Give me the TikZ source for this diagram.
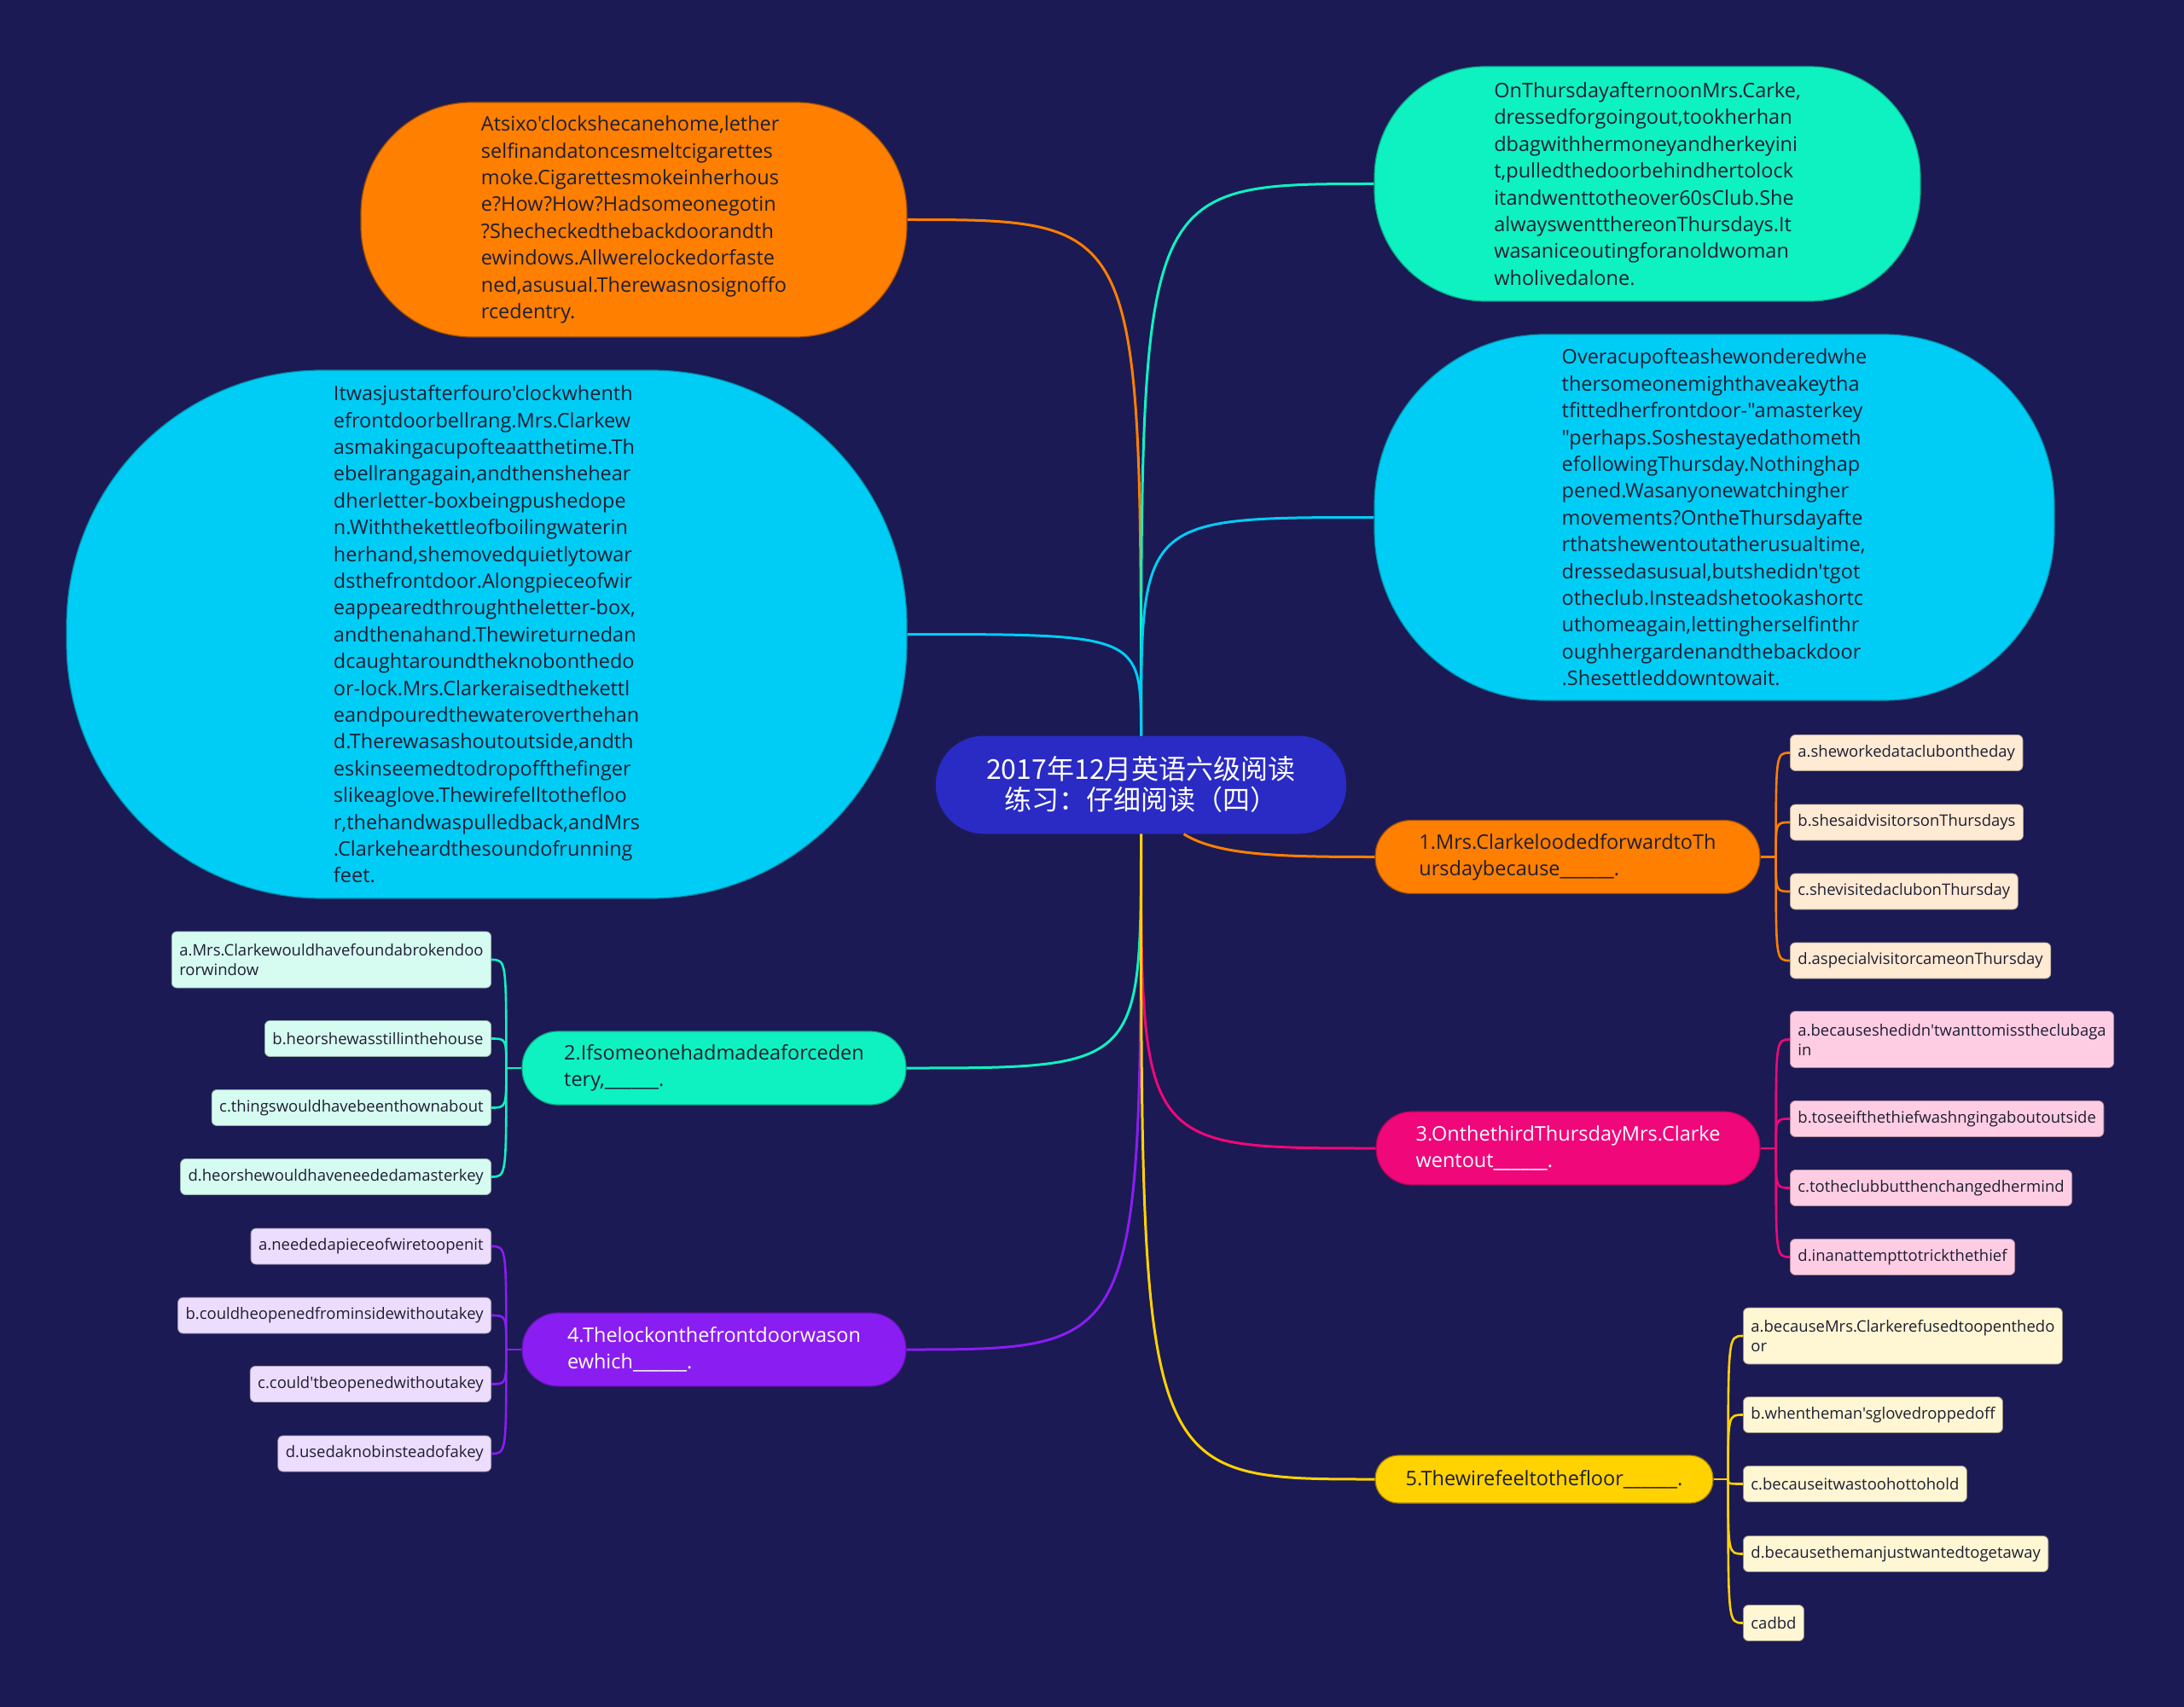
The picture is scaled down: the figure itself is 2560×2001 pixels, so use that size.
\documentclass[tikz,border=0pt]{standalone}
\usepackage{fontspec}
\setmainfont{Open Sans}[Ligatures=TeXOff]
\newfontfamily\cjkf{Noto Sans CJK SC}
\definecolor{bgc}{RGB}{27,26,84}
\definecolor{croot}{RGB}{42,42,196}
\definecolor{corange}{RGB}{255,127,0}
\definecolor{cgreen}{RGB}{14,242,193}
\definecolor{ccyan}{RGB}{0,205,245}
\definecolor{cpink}{RGB}{240,7,122}
\definecolor{cpurple}{RGB}{138,29,242}
\definecolor{cyellow}{RGB}{255,210,0}
\definecolor{oorange}{RGB}{255,234,211}
\definecolor{opink}{RGB}{255,205,227}
\definecolor{oyellow}{RGB}{255,246,212}
\definecolor{ogreen}{RGB}{214,252,241}
\definecolor{opurple}{RGB}{236,220,253}
\definecolor{txtdark}{RGB}{30,30,50}
\begin{document}
\begin{tikzpicture}[x=1pt,y=-1pt,
  rootnode/.style={rectangle, fill=croot, text=white, align=center,
    font=\cjkf\fontsize{32}{36}\selectfont, minimum width=481pt, minimum height=115pt,
    rounded corners=56pt, inner sep=0pt},
  bignode/.style={rectangle, align=left, font=\fontsize{23.5}{31.4}\selectfont,
    text=txtdark, inner sep=0pt, line width=1.2pt},
  qnode/.style={rectangle, align=left, font=\fontsize{23.5}{31}\selectfont,
    minimum width=450pt, minimum height=86pt, rounded corners=42pt,
    inner sep=0pt, line width=1.2pt},
  opt/.style={rectangle, rounded corners=6pt, align=left,
    font=\fontsize{18.5}{23}\selectfont, text=txtdark, inner xsep=9pt,
    inner ysep=8pt, minimum height=42pt, line width=0.8pt},
  opttwo/.style={opt, minimum height=66pt},
  conn/.style={line width=3pt},
  sconn/.style={line width=2.6pt}
]
\fill[bgc] (0,0) rectangle (2560,2001);
\useasboundingbox (0,0) rectangle (2560,2001);

% central node
\node[rootnode] (root) at (1337.5,920) {2017年12月英语六级阅读\\练习：仔细阅读（四）};

% passage nodes
\node[bignode, fill=corange, draw=corange!60!black, minimum width=640pt,
  minimum height=275pt, rounded corners=130pt] (p1) at (743,257.5)
{Atsixo'clockshecanehome,lether\\selfinandatoncesmeltcigarettes\\moke.Cigarettesmokeinherhous\\e?How?How?Hadsomeonegotin\\?Shecheckedthebackdoorandth\\ewindows.Allwerelockedorfaste\\ned,asusual.Therewasnosignoffo\\rcedentry.};

\node[bignode, fill=cgreen, draw=cgreen!70!black, minimum width=640pt,
  minimum height=275pt, rounded corners=130pt] (p2) at (1931,215.5)
{OnThursdayafternoonMrs.Carke,\\dressedforgoingout,tookherhan\\dbagwithhermoneyandherkeyini\\t,pulledthedoorbehindhertolock\\itandwenttotheover60sClub.She\\alwayswentthereonThursdays.It\\wasaniceoutingforanoldwoman\\wholivedalone.};

\node[bignode, fill=ccyan, draw=ccyan!70!black, minimum width=985pt,
  minimum height=619pt, rounded corners=300pt] (p3) at (570.5,743.5)
{Itwasjustafterfouro'clockwhenth\\efrontdoorbellrang.Mrs.Clarkew\\asmakingacupofteaatthetime.Th\\ebellrangagain,andthenshehear\\dherletter-boxbeingpushedope\\n.Withthekettleofboilingwaterin\\herhand,shemovedquietlytowar\\dsthefrontdoor.Alongpieceofwir\\eappearedthroughtheletter-box,\\andthenahand.Thewireturnedan\\dcaughtaroundtheknobonthedo\\or-lock.Mrs.Clarkeraisedthekettl\\eandpouredthewateroverthehan\\d.Therewasashoutoutside,andth\\eskinseemedtodropoffthefinger\\slikeaglove.Thewirefelltothefloo\\r,thehandwaspulledback,andMrs\\.Clarkeheardthesoundofrunning\\feet.};

\node[bignode, fill=ccyan, draw=ccyan!70!black, minimum width=797pt,
  minimum height=429pt, rounded corners=200pt] (p4) at (2009.5,606.5)
{Overacupofteashewonderedwhe\\thersomeonemighthaveakeytha\\tfittedherfrontdoor-"amasterkey\\"perhaps.Soshestayedathometh\\efollowingThursday.Nothinghap\\pened.Wasanyonewatchingher\\movements?OntheThursdayafte\\rthatshewentoutatherusualtime,\\dressedasusual,butshedidn'tgot\\otheclub.Insteadshetookashortc\\uthomeagain,lettingherselfinthr\\oughhergardenandthebackdoor\\.Shesettleddowntowait.};

% question nodes
\node[qnode, fill=corange, draw=corange!60!black, text=txtdark, minimum width=451pt] (q1) at (1837.5,1004.5)
{1.Mrs.ClarkeloodedforwardtoTh\\ursdaybecause\_\_\_\_\_\_.};
\node[qnode, fill=cgreen, draw=cgreen!70!black, text=txtdark] (q2) at (837,1252)
{2.Ifsomeonehadmadeaforceden\\tery,\_\_\_\_\_\_.};
\node[qnode, fill=cpink, draw=cpink!70!black, text=white] (q3) at (1838,1346)
{3.OnthethirdThursdayMrs.Clarke\\wentout\_\_\_\_\_\_.};
\node[qnode, fill=cpurple, draw=cpurple!70!black, text=white] (q4) at (837,1582)
{4.Thelockonthefrontdoorwason\\ewhich\_\_\_\_\_\_.};
\node[qnode, fill=cyellow, draw=cyellow!60!black, text=txtdark, minimum width=396pt,
  minimum height=56pt, rounded corners=27pt] (q5) at (1810,1734)
{5.Thewirefeeltothefloor\_\_\_\_\_\_.};

% options of Q1
\node[opt, fill=oorange, draw=oorange!70!black, anchor=west] (q1a) at (2098,882.5) {a.sheworkedataclubontheday};
\node[opt, fill=oorange, draw=oorange!70!black, anchor=west] (q1b) at (2098,964) {b.shesaidvisitorsonThursdays};
\node[opt, fill=oorange, draw=oorange!70!black, anchor=west] (q1c) at (2098,1045) {c.shevisitedaclubonThursday};
\node[opt, fill=oorange, draw=oorange!70!black, anchor=west] (q1d) at (2098,1126) {d.aspecialvisitorcameonThursday};

% options of Q3
\node[opttwo, fill=opink, draw=opink!70!black, anchor=west] (q3a) at (2098,1218.5) {a.becauseshedidn'twanttomisstheclubaga\\in};
\node[opt, fill=opink, draw=opink!70!black, anchor=west] (q3b) at (2098,1311.5) {b.toseeifthethiefwashngingaboutoutside};
\node[opt, fill=opink, draw=opink!70!black, anchor=west] (q3c) at (2098,1392.5) {c.totheclubbutthenchangedhermind};
\node[opt, fill=opink, draw=opink!70!black, anchor=west] (q3d) at (2098,1473.5) {d.inanattempttotrickthethief};

% options of Q5
\node[opttwo, fill=oyellow, draw=oyellow!60!black, anchor=west] (q5a) at (2043,1566) {a.becauseMrs.Clarkerefusedtoopenthedo\\or};
\node[opt, fill=oyellow, draw=oyellow!60!black, anchor=west] (q5b) at (2043,1658.5) {b.whentheman'sglovedroppedoff};
\node[opt, fill=oyellow, draw=oyellow!60!black, anchor=west] (q5c) at (2043,1739.5) {c.becauseitwastoohottohold};
\node[opt, fill=oyellow, draw=oyellow!60!black, anchor=west] (q5d) at (2043,1821.5) {d.becausethemanjustwantedtogetaway};
\node[opt, fill=oyellow, draw=oyellow!60!black, anchor=west] (q5e) at (2043,1902.5) {cadbd};

% options of Q2
\node[opttwo, fill=ogreen, draw=ogreen!70!black, anchor=east] (q2a) at (576,1125) {a.Mrs.Clarkewouldhavefoundabrokendoo\\rorwindow};
\node[opt, fill=ogreen, draw=ogreen!70!black, anchor=east] (q2b) at (576,1217.5) {b.heorshewasstillinthehouse};
\node[opt, fill=ogreen, draw=ogreen!70!black, anchor=east] (q2c) at (576,1298.5) {c.thingswouldhavebeenthownabout};
\node[opt, fill=ogreen, draw=ogreen!70!black, anchor=east] (q2d) at (576,1379.5) {d.heorshewouldhaveneededamasterkey};

% options of Q4
\node[opt, fill=opurple, draw=opurple!70!black, anchor=east] (q4a) at (576,1461) {a.neededapieceofwiretoopenit};
\node[opt, fill=opurple, draw=opurple!70!black, anchor=east] (q4b) at (576,1542) {b.couldheopenedfrominsidewithoutakey};
\node[opt, fill=opurple, draw=opurple!70!black, anchor=east] (q4c) at (576,1622.5) {c.could'tbeopenedwithoutakey};
\node[opt, fill=opurple, draw=opurple!70!black, anchor=east] (q4d) at (576,1704) {d.usedaknobinsteadofakey};

% main connectors
\draw[conn, corange] (root.north) .. controls (root.north |- p1.east) .. (p1.east);
\draw[conn, cgreen] (root.north) .. controls (root.north |- p2.west) .. (p2.west);
\draw[conn, ccyan] (root.north) .. controls (root.north |- p3.east) .. (p3.east);
\draw[conn, ccyan] (root.north) .. controls (root.north |- p4.west) .. (p4.west);
\draw[conn, corange] ([xshift=50pt]root.south) .. controls ([xshift=90pt,yshift=-25pt]root.south) and (1500,1004.5) .. (q1.west);
\draw[conn, cgreen] (root.south) .. controls (root.south |- q2.east) .. (q2.east);
\draw[conn, cpink] (root.south) .. controls (root.south |- q3.west) .. (q3.west);
\draw[conn, cpurple] (root.south) .. controls (root.south |- q4.east) .. (q4.east);
\draw[conn, cyellow] (root.south) .. controls (root.south |- q5.west) .. (q5.west);

% option connectors
\draw[sconn, corange] (q1.east) -- ++(18,0) coordinate (q1j);
\foreach \o in {q1a,q1b,q1c,q1d}
  \draw[sconn, corange] (q1j) .. controls (q1j |- \o.west) .. (\o.west);
\draw[sconn, cpink] (q3.east) -- ++(18,0) coordinate (q3j);
\foreach \o in {q3a,q3b,q3c,q3d}
  \draw[sconn, cpink] (q3j) .. controls (q3j |- \o.west) .. (\o.west);
\draw[sconn, cyellow] (q5.east) -- ++(17,0) coordinate (q5j);
\foreach \o in {q5a,q5b,q5c,q5d,q5e}
  \draw[sconn, cyellow] (q5j) .. controls (q5j |- \o.west) .. (\o.west);
\draw[sconn, cgreen] (q2.west) -- ++(-18,0) coordinate (q2j);
\foreach \o in {q2a,q2b,q2c,q2d}
  \draw[sconn, cgreen] (q2j) .. controls (q2j |- \o.east) .. (\o.east);
\draw[sconn, cpurple] (q4.west) -- ++(-18,0) coordinate (q4j);
\foreach \o in {q4a,q4b,q4c,q4d}
  \draw[sconn, cpurple] (q4j) .. controls (q4j |- \o.east) .. (\o.east);
\end{tikzpicture}
\end{document}
